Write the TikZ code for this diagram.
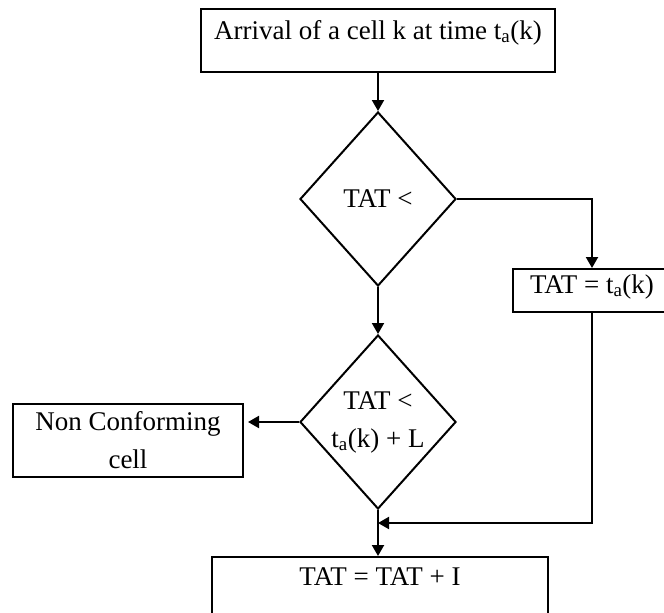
\documentclass[tikz,border=0pt]{standalone}
\usepackage{fontspec}
\setmainfont{Liberation Serif}
\usetikzlibrary{shapes.geometric,arrows.meta}
\begin{document}
\begin{tikzpicture}[x=1pt,y=-1pt,
  every node/.style={font=\fontsize{27}{38}\selectfont},
  box/.style={draw, line width=2pt, inner xsep=0pt, inner ysep=0pt},
  decision/.style={draw, diamond, line width=2pt, inner sep=0pt,
    minimum width=156pt, minimum height=174pt, align=center},
  flow/.style={line width=2pt, -{Triangle[length=11pt,width=12pt]}}]
\useasboundingbox (0,0) rectangle (664,613);

% process boxes
\node[box, minimum width=354pt, text height=30pt, text depth=33pt]
  (arrive) at (378,40.5) {Arrival of a cell k at time t\textsubscript{a}(k)};
\node[box, minimum width=158pt, text height=24pt, text depth=19pt]
  (reset) at (592,290.5) {TAT = t\textsubscript{a}(k)};
\node[box, minimum width=230pt, minimum height=73pt, align=center]
  (nonconf) at (128,440.5) {Non Conforming\\cell};
\node[box, minimum width=336pt, text height=28pt, text depth=45pt]
  (update) at (380,593.5) {TAT = TAT + I};

% decisions
\node[decision] (late) at (378,199) {TAT <};
\node[decision] (early) at (378,422) {TAT <\\t\textsubscript{a}(k) + L};

% connectors
\coordinate (merge) at (378,523);
\draw[flow] (arrive.south) -- (late.north);
\draw[flow] (late.east) -| (reset.north);
\draw[flow] (late.south) -- (early.north);
\draw[flow, shorten >=4pt] (early.west) -- (early.west -| nonconf.east);
\draw[flow] (reset.south) |- (merge);
\draw[flow] (early.south) -- (early.south |- update.north);
\end{tikzpicture}
\end{document}
